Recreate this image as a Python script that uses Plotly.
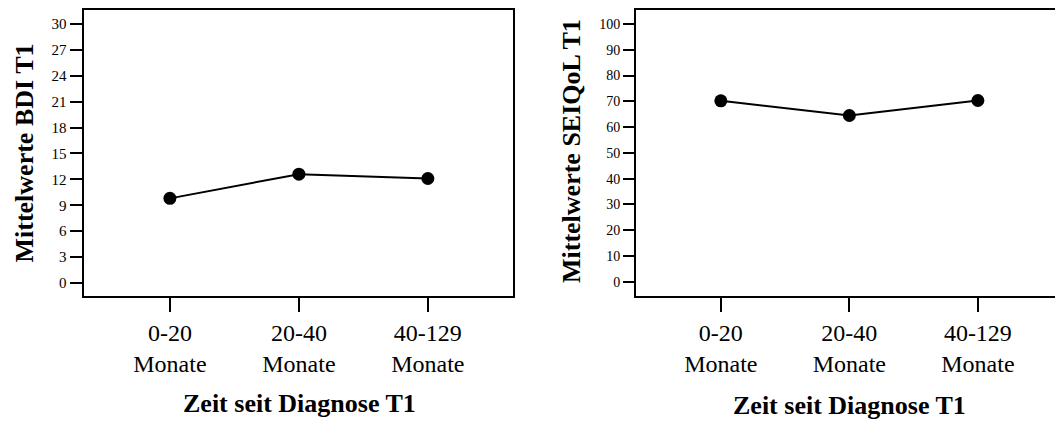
import plotly.graph_objects as go

categories = ["0-20<br>Monate", "20-40<br>Monate", "40-129<br>Monate"]
bdi_values = [9.8, 12.6, 12.1]
seiqol_values = [70.2, 64.5, 70.3]
bdi_ticks = [0, 3, 6, 9, 12, 15, 18, 21, 24, 27, 30]
seiqol_ticks = [0, 10, 20, 30, 40, 50, 60, 70, 80, 90, 100]

FONT = "Liberation Serif"
W, H = 1055, 421

fig = go.Figure()
fig.add_trace(go.Scatter(x=[0, 1, 2], y=bdi_values, mode="lines+markers",
                         line=dict(color="black", width=2),
                         marker=dict(color="black", size=13),
                         xaxis="x", yaxis="y", showlegend=False))
fig.add_trace(go.Scatter(x=[0, 1, 2], y=seiqol_values, mode="lines+markers",
                         line=dict(color="black", width=2),
                         marker=dict(color="black", size=13),
                         xaxis="x2", yaxis="y2", showlegend=False))

ydom = [1 - 296 / H, 1 - 10 / H]

common_x = dict(tickmode="array", tickvals=[0, 1, 2], ticktext=categories,
                ticks="outside", ticklen=14, tickwidth=2, tickcolor="black",
                showline=True, linecolor="black", linewidth=2, mirror=True,
                showgrid=False, zeroline=False,
                tickfont=dict(family=FONT, size=24, color="black"))

fig.update_layout(
    width=W, height=H,
    margin=dict(l=0, r=0, t=0, b=0),
    paper_bgcolor="white", plot_bgcolor="white",
    font=dict(family=FONT, color="black"),
    xaxis=dict(domain=[83.5 / W, 513 / W], range=[-0.67, 2.66], anchor="y", **common_x),
    xaxis2=dict(domain=[636 / W, 1.0], range=[-0.66, 2.6], anchor="y2", **common_x),
    yaxis=dict(domain=ydom, range=[-1.5, 31.6], anchor="x",
               tickmode="array", tickvals=bdi_ticks,
               ticks="outside", ticklen=12, tickwidth=2, tickcolor="black",
               showline=True, linecolor="black", linewidth=2, mirror=True,
               showgrid=False, zeroline=False,
               tickfont=dict(family=FONT, size=15, color="black")),
    yaxis2=dict(domain=ydom, range=[-5.5, 105.4], anchor="x2",
                tickmode="array", tickvals=seiqol_ticks,
                ticks="outside", ticklen=11, tickwidth=2, tickcolor="black",
                showline=True, linecolor="black", linewidth=2, mirror=False,
                showgrid=False, zeroline=False,
                tickfont=dict(family=FONT, size=14, color="black")),
)

title_font = dict(family=FONT, size=26, color="black")
annotations = [
    dict(text="<b>Mittelwerte BDI T1</b>", x=24 / W, y=1 - 153.5 / H, textangle=-90),
    dict(text="<b>Mittelwerte SEIQoL T1</b>", x=571 / W, y=1 - 151 / H, textangle=-90),
    dict(text="<b>Zeit seit Diagnose T1</b>", x=299 / W, y=1 - 403 / H, textangle=0),
    dict(text="<b>Zeit seit Diagnose T1</b>", x=849 / W, y=1 - 405 / H, textangle=0),
]
for a in annotations:
    fig.add_annotation(xref="paper", yref="paper", showarrow=False,
                       xanchor="center", yanchor="middle", font=title_font, **a)

fig.write_html("out.html")
